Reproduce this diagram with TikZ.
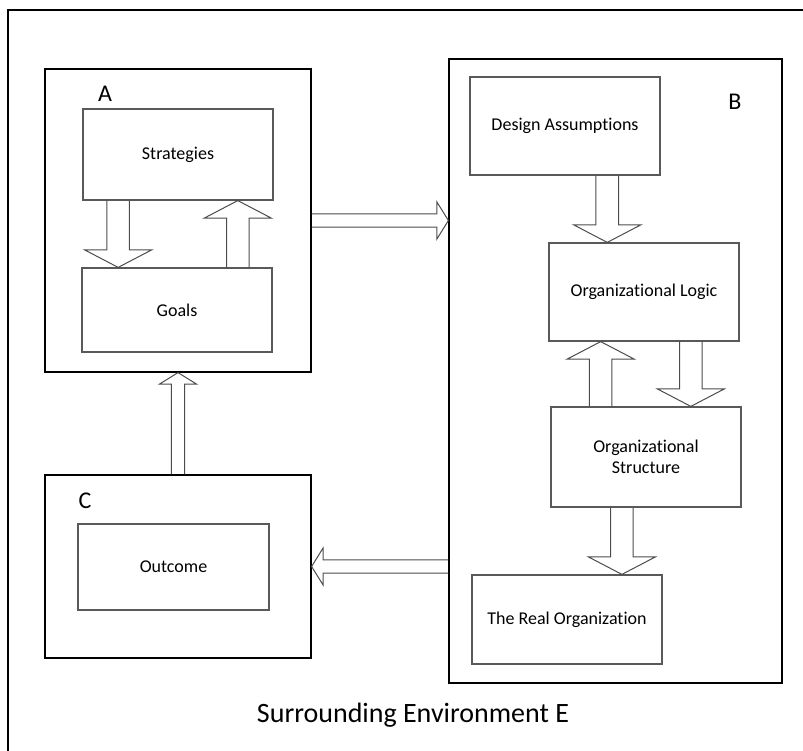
\documentclass[tikz,border=0pt]{standalone}
\usepackage{fontspec}
\setmainfont{Carlito}[Ligatures={TeX,NoCommon}]
\usetikzlibrary{calc,positioning}

% hollow block arrow from #1 to #2 (shaft half width, head half width, head length)
\newcommand{\blockarrow}[5]{%
  \coordinate (hb) at ($(#2)!#5!(#1)$);
  \draw[fatline] ($(#1)!#3!90:(#2)$) -- ($(hb)!#3!-90:(#1)$) -- ($(hb)!#4!-90:(#1)$)
        -- (#2) -- ($(hb)!#4!90:(#1)$) -- ($(hb)!#3!90:(#1)$) -- ($(#1)!#3!-90:(#2)$);
}
\newcommand{\bigarrow}[2]{\blockarrow{#1}{#2}{11.3pt}{33.5pt}{17.5pt}}
\newcommand{\thinarrow}[2]{\blockarrow{#1}{#2}{6.6pt}{18.5pt}{11.5pt}}

\begin{document}
\begin{tikzpicture}[x=1pt,y=-1pt,
    frame/.style={draw=black,line width=1.3pt,inner sep=0pt},
    group/.style={draw=black,line width=1.2pt,inner sep=0pt},
    block/.style={draw=black!65,line width=1.2pt,minimum width=190pt,align=center,
                  font=\fontsize{18}{21.6}\selectfont},
    letter/.style={anchor=base,font=\fontsize{24}{28}\selectfont},
    fatline/.style={draw=black!70,line width=1pt,line join=miter}]
    \useasboundingbox (0,0) rectangle (803,751);
    \clip (0,0) rectangle (803,751);

    % surrounding environment
    \node[frame,minimum width=810pt,minimum height=760pt] (env) at (413,390) {};
    \node[anchor=base,font=\fontsize{28}{34}\selectfont] (envlabel) at (413,722) {Surrounding Environment E};

    % A
    \node[group,minimum width=266pt,minimum height=303pt] (A) at (178,220.5) {};
    \node[letter] (Alabel) at (105,102) {A};
    \node[block,minimum height=91pt] (strat) at (178,154.5) {Strategies};
    \node[block,minimum height=84pt] (goals) at (177,310) {Goals};

    % B
    \node[group,minimum width=333pt,minimum height=624pt] (B) at (615.5,371) {};
    \node[letter] (Blabel) at (735,110) {B};
    \node[block,minimum height=98pt] (design) at (565,126) {Design Assumptions};
    \node[block,minimum height=98pt] (logic) at (644,292) {Organizational Logic};
    \node[block,minimum height=100pt] (struct) at (646,457) {Organizational\\Structure};
    \node[block,minimum height=89pt] (real) at (567,619.5) {The Real Organization};

    % C
    \node[group,minimum width=266pt,minimum height=183pt] (C) at (178,566.5) {};
    \node[letter] (Clabel) at (85,508) {C};
    \node[block,minimum width=191pt,minimum height=86pt] (outcome) at (173.5,567) {Outcome};

    % arrows inside A
    \coordinate (s1) at ($(strat.south west)!.187!(strat.south east)$);
    \coordinate (g1) at ($(goals.north west)!.818!(goals.north east)$);
    \bigarrow{s1}{s1 |- goals.north}
    \bigarrow{g1}{g1 |- strat.south}

    % arrows inside B
    \coordinate (d1) at ($(design.south west)!.721!(design.south east)$);
    \coordinate (t1) at ($(struct.north west)!.263!(struct.north east)$);
    \coordinate (l1) at ($(logic.south west)!.745!(logic.south east)$);
    \coordinate (t2) at ($(struct.south west)!.374!(struct.south east)$);
    \bigarrow{d1}{d1 |- logic.north}
    \bigarrow{t1}{t1 |- logic.south}
    \bigarrow{l1}{l1 |- struct.north}
    \bigarrow{t2}{t2 |- real.north}

    % between the groups
    \thinarrow{A.east}{A.east -| B.west}
    \thinarrow{C.east -| B.west}{C.east}
    \thinarrow{C.north}{A.south}
\end{tikzpicture}
\end{document}
